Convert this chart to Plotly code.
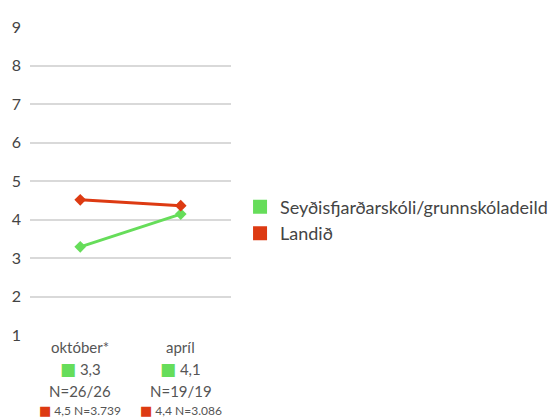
import plotly.graph_objects as go

categories = ["október*", "apríl"]
school_name = "Seyðisfjarðarskóli/grunnskóladeild"
national_name = "Landið"
school_values = [3.29, 4.14]
national_values = [4.51, 4.36]
school_labels = ["3,3", "4,1"]
school_n = ["N=26/26", "N=19/19"]
national_labels = ["4,5 N=3.739", "4,4 N=3.086"]
y_ticks = [1, 2, 3, 4, 5, 6, 7, 8, 9]

GREEN = "#66dd5a"
RED = "#dd3a12"
TXT = "#555555"
FONT = "Lato"

fig = go.Figure()
fig.add_trace(go.Scatter(x=categories, y=school_values, mode="lines+markers",
                         line=dict(color=GREEN, width=3),
                         marker=dict(symbol="diamond", size=9, color=GREEN),
                         showlegend=False, hoverinfo="skip"))
fig.add_trace(go.Scatter(x=categories, y=national_values, mode="lines+markers",
                         line=dict(color=RED, width=3),
                         marker=dict(symbol="diamond", size=9, color=RED),
                         showlegend=False, hoverinfo="skip"))
for g, (name, col) in enumerate([(school_name, GREEN), (national_name, RED)]):
    fig.add_trace(go.Scatter(x=[None], y=[None], mode="markers", name=name,
                             legendgroup=f"g{g}",
                             marker=dict(symbol="square", size=14, color=col)))

def sq(col, size):
    return f"<span style='color:{col};font-family:DejaVu Sans;font-size:{size}px'>■</span>"

for i, cat in enumerate(categories):
    lines = [
        (cat, 15, -12),
        (f"{sq(GREEN, 17)} {school_labels[i]}", 15, -34),
        (school_n[i], 15, -56),
        (f"{sq(RED, 13)} {national_labels[i]}", 12, -75),
    ]
    for text, size, ys in lines:
        fig.add_annotation(x=cat, xref="x", y=0, yref="paper", text=text,
                           showarrow=False, yanchor="middle", yshift=ys,
                           font=dict(family=FONT, size=size, color=TXT))

fig.update_layout(
    width=553, height=419,
    margin=dict(l=30, r=322, t=27, b=84, autoexpand=False),
    paper_bgcolor="white", plot_bgcolor="white",
    font=dict(family=FONT, color=TXT, size=15),
    xaxis=dict(showticklabels=False, showgrid=False, zeroline=False,
               showline=False, range=[-0.5, 1.5]),
    yaxis=dict(range=[1, 9], tickvals=y_ticks, showgrid=True,
               gridcolor="#d9d9d9", gridwidth=2, zeroline=False,
               showline=False, ticks="", ticklabelstandoff=8,
               tickfont=dict(family=FONT, size=16, color="#444444")),
    legend=dict(x=1.045, xanchor="left", y=0.373, yanchor="middle",
                font=dict(family=FONT, size=18, color="#444444"),
                itemwidth=30, tracegroupgap=0),
)
fig.write_html("out.html", config={"displayModeBar": False},
               post_script="document.body.style.margin='0';")
